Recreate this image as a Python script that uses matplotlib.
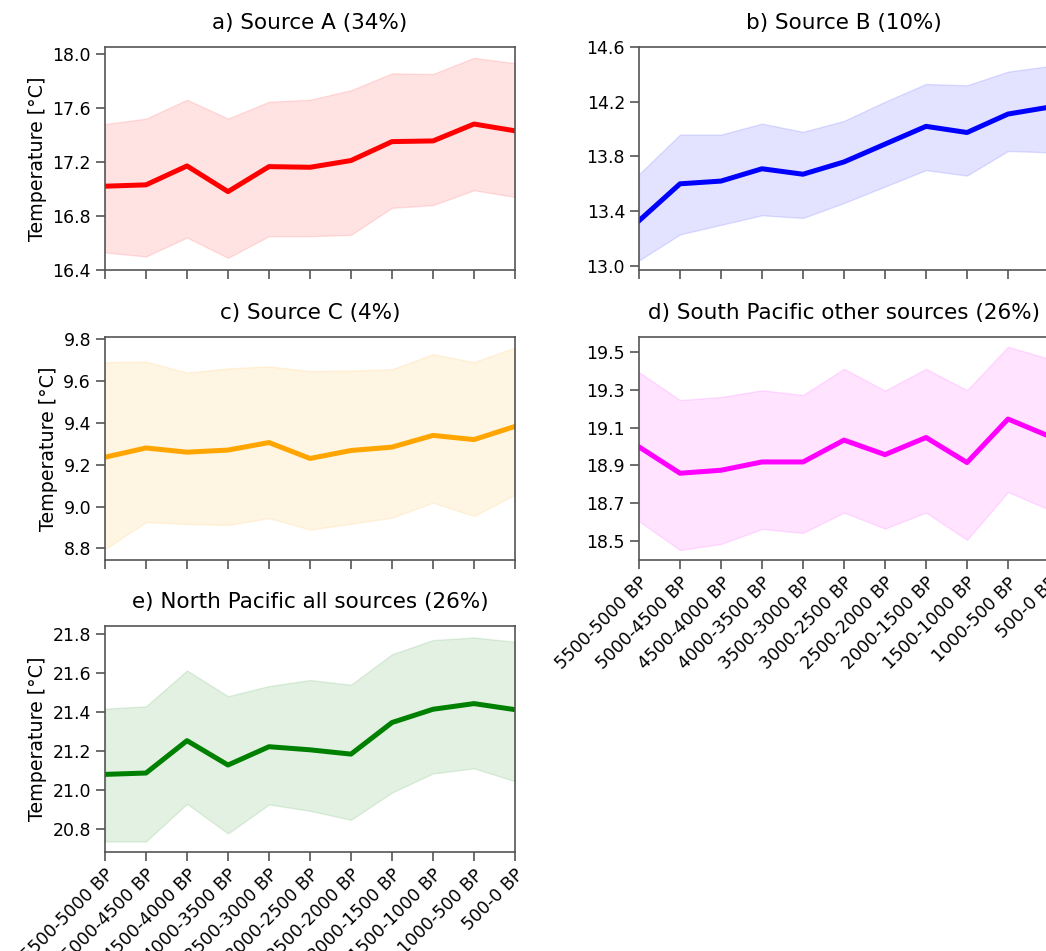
import matplotlib
matplotlib.use("Agg")
import matplotlib.pyplot as plt

periods = ["5500-5000 BP", "5000-4500 BP", "4500-4000 BP", "4000-3500 BP",
           "3500-3000 BP", "3000-2500 BP", "2500-2000 BP", "2000-1500 BP",
           "1500-1000 BP", "1000-500 BP", "500-0 BP"]

a_mean = [17.02, 17.03, 17.17, 16.98, 17.165, 17.16, 17.21, 17.35, 17.355, 17.48, 17.43]
a_high = [17.48, 17.52, 17.66, 17.52, 17.645, 17.66, 17.73, 17.855, 17.85, 17.97, 17.93]
a_low = [16.53, 16.50, 16.64, 16.49, 16.65, 16.65, 16.66, 16.86, 16.88, 16.99, 16.94]

b_mean = [13.33, 13.60, 13.62, 13.71, 13.67, 13.76, 13.89, 14.02, 13.975, 14.11, 14.16]
b_high = [13.67, 13.96, 13.96, 14.04, 13.98, 14.06, 14.20, 14.33, 14.32, 14.42, 14.46]
b_low = [13.04, 13.23, 13.30, 13.37, 13.35, 13.46, 13.58, 13.70, 13.66, 13.84, 13.83]

c_mean = [9.236, 9.28, 9.26, 9.27, 9.306, 9.23, 9.268, 9.284, 9.34, 9.32, 9.383]
c_high = [9.69, 9.693, 9.64, 9.66, 9.67, 9.647, 9.65, 9.656, 9.728, 9.69, 9.76]
c_low = [8.797, 8.926, 8.917, 8.912, 8.945, 8.89, 8.918, 8.947, 9.019, 8.955, 9.057]

d_mean = [18.998, 18.858, 18.874, 18.918, 18.918, 19.034, 18.957, 19.048, 18.915, 19.146, 19.055]
d_high = [19.395, 19.247, 19.263, 19.299, 19.274, 19.413, 19.297, 19.413, 19.299, 19.530, 19.466]
d_low = [18.603, 18.45, 18.482, 18.562, 18.541, 18.649, 18.564, 18.649, 18.504, 18.758, 18.665]

e_mean = [21.082, 21.089, 21.255, 21.130, 21.224, 21.208, 21.186, 21.348, 21.416, 21.445, 21.414]
e_high = [21.419, 21.431, 21.615, 21.483, 21.535, 21.566, 21.542, 21.698, 21.771, 21.784, 21.762]
e_low = [20.738, 20.738, 20.931, 20.779, 20.928, 20.895, 20.849, 20.989, 21.087, 21.113, 21.047]

W, H = 1046, 951


def px_axes(fig, left, top, right, bottom):
    return fig.add_axes([left / W, 1 - bottom / H, (right - left) / W, (bottom - top) / H])


def draw_panel(ax, mean, low, high, color, title, ylim, yticks, show_labels, ylabel):
    x = list(range(len(periods)))
    ax.fill_between(x, low, high, color=color, alpha=0.11, linewidth=1)
    ax.plot(x, mean, color=color, linewidth=3.6)
    ax.set_xlim(0, len(periods) - 1)
    ax.set_ylim(*ylim)
    ax.set_yticks(yticks)
    ax.set_yticklabels([f"{t:.1f}" for t in yticks])
    ax.set_xticks(x)
    if show_labels:
        ax.set_xticklabels(periods, rotation=45, ha="right", rotation_mode="anchor")
    else:
        ax.set_xticklabels([])
    ax.set_title(title, fontsize=15.5, pad=13)
    if ylabel:
        ax.set_ylabel("Temperature [°C]", fontsize=13.7)
    for s in ax.spines.values():
        s.set_color("#555555")
        s.set_linewidth(1.2)
    ax.tick_params(axis="both", length=6.5, width=1.2, color="#555555", labelsize=12.5)


fig = plt.figure(figsize=(W / 100, H / 100), dpi=100)

ax_a = px_axes(fig, 105, 47, 515, 270)
ax_b = px_axes(fig, 639, 47, 1049, 270)
ax_c = px_axes(fig, 105, 337, 515, 560)
ax_d = px_axes(fig, 639, 337, 1049, 560)
ax_e = px_axes(fig, 105, 626, 515, 852)

draw_panel(ax_a, a_mean, a_low, a_high, "red", "a) Source A (34%)",
           (16.4, 18.05), [16.4, 16.8, 17.2, 17.6, 18.0], False, True)
draw_panel(ax_b, b_mean, b_low, b_high, "blue", "b) Source B (10%)",
           (12.97, 14.6), [13.0, 13.4, 13.8, 14.2, 14.6], False, False)
draw_panel(ax_c, c_mean, c_low, c_high, "orange", "c) Source C (4%)",
           (8.745, 9.81), [8.8, 9.0, 9.2, 9.4, 9.6, 9.8], False, True)
draw_panel(ax_d, d_mean, d_low, d_high, "magenta", "d) South Pacific other sources (26%)",
           (18.397, 19.582), [18.5, 18.7, 18.9, 19.1, 19.3, 19.5], True, False)
draw_panel(ax_e, e_mean, e_low, e_high, "green", "e) North Pacific all sources (26%)",
           (20.684, 21.843), [20.8, 21.0, 21.2, 21.4, 21.6, 21.8], True, True)

fig.savefig("out.png", dpi=100)
